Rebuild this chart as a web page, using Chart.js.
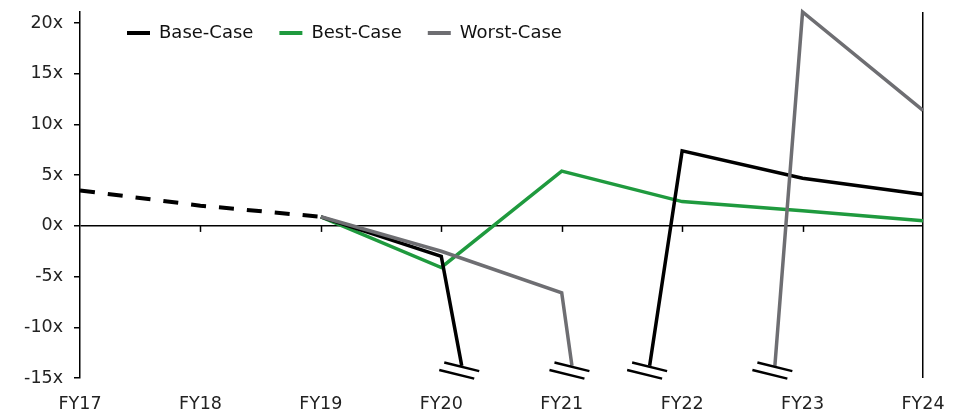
<!DOCTYPE html>
<html>
<head>
<meta charset="utf-8">
<script src="https://cdn.jsdelivr.net/npm/chart.js@4.4.1/dist/chart.umd.min.js"></script>
<style>
  body { margin: 0; background: #fff; }
  #wrap { width: 963px; height: 414px; position: relative; }
</style>
</head>
<body>
<div id="wrap"><canvas id="multipleChart"></canvas></div>
<script>
// ---- data (EV/EBITDA multiple, x) ----
const years = ['FY17', 'FY18', 'FY19', 'FY20', 'FY21', 'FY22', 'FY23', 'FY24'];
const baseHistory = [3.5, 2.0, 0.9, null, null, null, null, null];
const baseCase  = [null, null, 0.9, -3.0, null, 7.4, 4.7, 3.1];
const bestCase  = [null, null, 0.9, -4.1, 5.4, 2.4, 1.5, 0.5];
const worstCase = [null, null, 0.9, -2.5, -6.6, null, 21.1, 11.4];

// where an off-scale value leaves / re-enters the chart (axis break)
const breakLevel = -13.8;
const baseBreaks = [3.17, 4.73];
const worstBreaks = [4.085, 5.77];

const yTicks = [-15, -10, -5, 0, 5, 10, 15, 20];

const GREEN = '#1f9a3e';
const GREY = '#6e6e72';
const FONT = { family: '"DejaVu Sans", Verdana, sans-serif', size: 17.5 };

// build {x,y} points, jumping over an off-scale value with break points
function buildPoints(values, breaks) {
    const pts = [];
    values.forEach((v, i) => {
        if (v === null) {
            if (pts.length && breaks) {
                pts.push({ x: breaks[0], y: breakLevel });
                pts.push({ x: i, y: null });
                pts.push({ x: breaks[1], y: breakLevel });
            }
            return;
        }
        pts.push({ x: i, y: v });
    });
    return pts;
}

// legend sits inside the plot, zero line tick marks, break symbols
const decorPlugin = {
    id: 'decor',
    afterInit(chart) {
        const lg = chart.legend;
        const fit = lg.fit;
        lg.fit = function () { fit.call(this); this.height = 0; };
    },
    afterLayout(chart) {
        const lg = chart.legend;
        lg.left += 101;
        lg.right += 101;
        lg.top -= 14;
        lg.bottom = lg.top + 60;
    },
    beforeDatasetsDraw(chart) {
        const { ctx, scales: { x, y } } = chart;
        const y0 = y.getPixelForValue(0);
        ctx.save();
        ctx.strokeStyle = '#000';
        ctx.lineWidth = 1.5;
        for (let i = 1; i < years.length - 1; i++) {
            const px = Math.round(x.getPixelForValue(i)) + 0.5;
            ctx.beginPath();
            ctx.moveTo(px, y0);
            ctx.lineTo(px, y0 + 6);
            ctx.stroke();
        }
        ctx.restore();
    },
    afterDatasetsDraw(chart) {
        const { ctx, scales: { x, y } } = chart;
        const ang = 13.8 * Math.PI / 180;
        const dx = Math.cos(ang) * 18, dy = Math.sin(ang) * 18;
        ctx.save();
        ctx.strokeStyle = '#000';
        ctx.lineWidth = 2.5;
        baseBreaks.concat(worstBreaks).forEach(bx => {
            const px = x.getPixelForValue(bx);
            const py = y.getPixelForValue(breakLevel) + 1;
            [[0, 0], [-5, 7.5]].forEach(([ox, oy]) => {
                ctx.beginPath();
                ctx.moveTo(px + ox - dx, py + oy - dy);
                ctx.lineTo(px + ox + dx, py + oy + dy);
                ctx.stroke();
            });
        });
        ctx.restore();
    }
};

const ctx = document.getElementById('multipleChart').getContext('2d');
new Chart(ctx, {
    type: 'line',
    data: {
        datasets: [
            {
                label: 'Base-Case',
                data: buildPoints(baseCase, baseBreaks),
                borderColor: '#000',
                backgroundColor: '#000',
                borderWidth: 3.5,
                order: 2
            },
            {
                label: 'Best-Case',
                data: buildPoints(bestCase),
                borderColor: GREEN,
                backgroundColor: GREEN,
                borderWidth: 3.5,
                order: 3
            },
            {
                label: 'Worst-Case',
                data: buildPoints(worstCase, worstBreaks),
                borderColor: GREY,
                backgroundColor: GREY,
                borderWidth: 3.5,
                order: 1
            },
            {
                label: '',
                data: buildPoints(baseHistory),
                borderColor: '#000',
                backgroundColor: '#000',
                borderWidth: 4,
                borderDash: [15, 13],
                order: 4
            }
        ]
    },
    options: {
        responsive: true,
        maintainAspectRatio: false,
        animation: false,
        clip: false,
        elements: {
            point: { radius: 0, hoverRadius: 0 },
            line: { tension: 0, borderCapStyle: 'butt', borderJoinStyle: 'miter' }
        },
        layout: { padding: { top: 12, right: 40, left: 0, bottom: 0 } },
        scales: {
            x: {
                type: 'linear',
                min: 0,
                max: years.length - 1,
                afterFit: s => { s.height = 36; s.paddingLeft = 0; s.paddingRight = 0; },
                afterBuildTicks: s => { s.ticks = years.map((_, i) => ({ value: i })); },
                ticks: {
                    stepSize: 1,
                    padding: 16,
                    color: '#222',
                    font: FONT,
                    maxRotation: 0,
                    callback: v => years[v]
                },
                grid: {
                    drawTicks: false,
                    lineWidth: 1.5,
                    color: c => (c.tick && c.tick.value === years.length - 1) ? '#000' : 'rgba(0,0,0,0)'
                },
                border: { display: false }
            },
            y: {
                min: -15,
                max: 21.1,
                afterFit: s => { s.width = 80; s.paddingTop = 0; s.paddingBottom = 0; },
                afterBuildTicks: s => { s.ticks = yTicks.map(v => ({ value: v })); },
                ticks: {
                    padding: 11,
                    color: '#222',
                    font: FONT,
                    callback: v => v + 'x'
                },
                grid: {
                    tickLength: 6,
                    lineWidth: 1.5,
                    tickColor: '#000',
                    color: c => (c.tick && c.tick.value === 0) ? '#000' : 'rgba(0,0,0,0)'
                },
                border: { display: true, color: '#000', width: 1.5 }
            }
        },
        plugins: {
            legend: {
                position: 'top',
                align: 'start',
                labels: {
                    boxWidth: 23,
                    boxHeight: 4,
                    padding: 26,
                    color: '#111',
                    font: { family: FONT.family, size: 18 },
                    filter: item => item.text !== '',
                    sort: (a, b) => a.datasetIndex - b.datasetIndex,
                    generateLabels: chart =>
                        Chart.defaults.plugins.legend.labels.generateLabels(chart).map(item => {
                            item.fillStyle = item.strokeStyle;
                            item.lineWidth = 0;
                            item.lineDash = [];
                            return item;
                        })
                }
            },
            tooltip: { enabled: false }
        }
    },
    plugins: [decorPlugin]
});
</script>
</body>
</html>
